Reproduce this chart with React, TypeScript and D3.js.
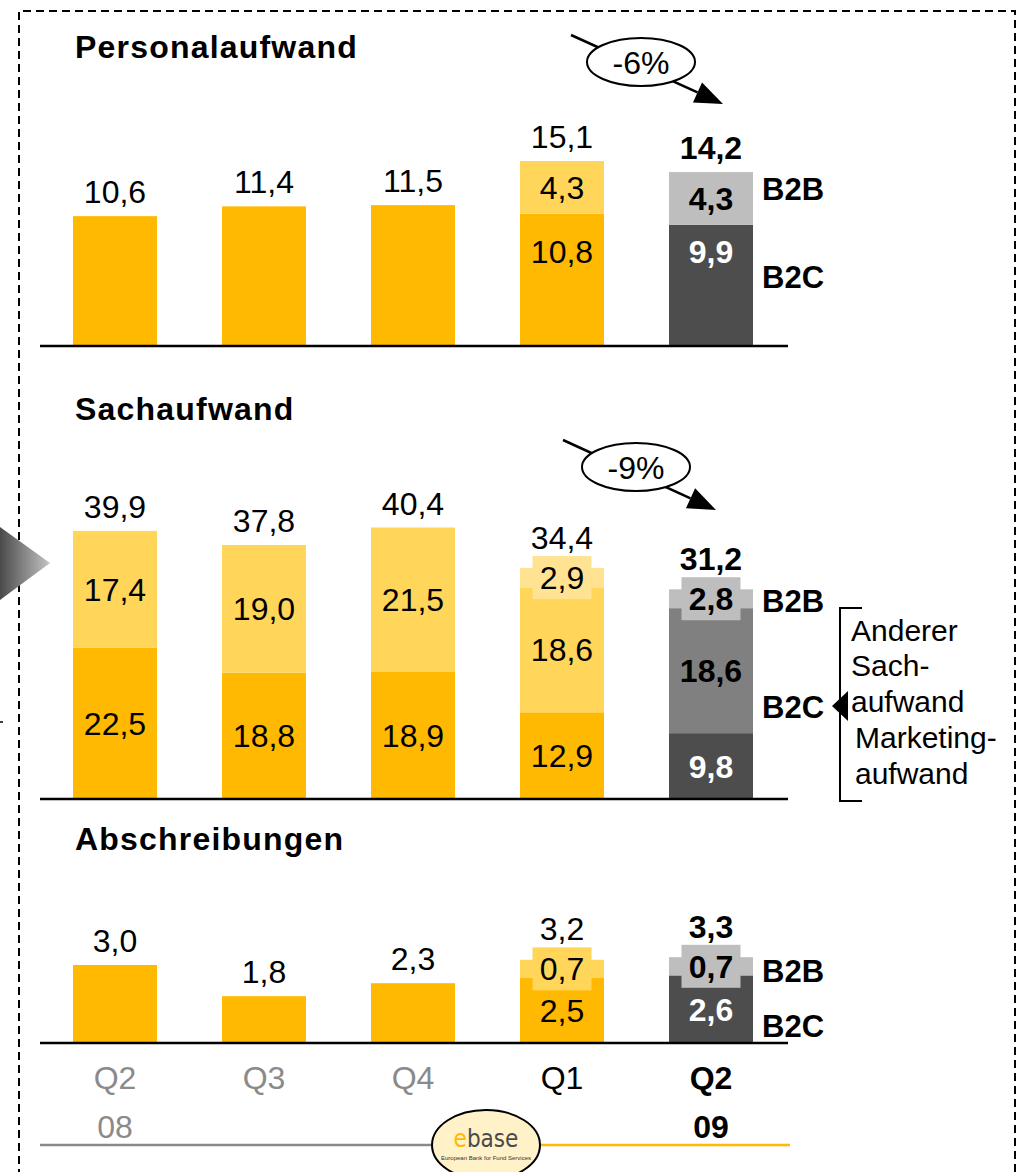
import * as d3 from "d3";

// categories / tick labels
const quarters = ["Q2", "Q3", "Q4", "Q1", "Q2"];
const years = ["08", "", "", "", "09"];

// Personalaufwand (Mio EUR)
const personalB2C = [10.6, 11.4, 11.5, 10.8, 9.9];
const personalB2B = [0, 0, 0, 4.3, 4.3];
const personalTotal = [10.6, 11.4, 11.5, 15.1, 14.2];

// Sachaufwand
const sachMarketing = [22.5, 18.8, 18.9, 12.9, 9.8];
const sachAnderer = [17.4, 19.0, 21.5, 18.6, 18.6];
const sachB2B = [0, 0, 0, 2.9, 2.8];
const sachTotal = [39.9, 37.8, 40.4, 34.4, 31.2];

// Abschreibungen
const abschrB2C = [3.0, 1.8, 2.3, 2.5, 2.6];
const abschrB2B = [0, 0, 0, 0.7, 0.7];
const abschrTotal = [3.0, 1.8, 2.3, 3.2, 3.3];

const changes = ["-6%", "-9%"];

const W = 1026;
const H = 1172;
const FONT = "'Liberation Sans', Arial, Helvetica, sans-serif";

const yDark = "#FFB900";
const yMid = "#FFD55A";
const yLight = "#FFE392";
const gLight = "#BEBEBE";
const gMid = "#808080";
const gDark = "#4D4D4D";

const fmt = (v: number) => v.toFixed(1).replace(".", ",");

interface Segment {
  values: number[];
  fills: string[];
  textColors: string[];
  showLabel: boolean[];
  labelAt?: number; // fixed label position in value units
}

interface Panel {
  title: string;
  titleY: number;
  baseline: number;
  pxPerUnit: number;
  segments: Segment[];
  totals: number[];
}

const panels: Panel[] = [
  {
    title: "Personalaufwand",
    titleY: 58,
    baseline: 346,
    pxPerUnit: 12.25,
    totals: personalTotal,
    segments: [
      {
        values: personalB2C,
        fills: [yDark, yDark, yDark, yDark, gDark],
        textColors: ["#000", "#000", "#000", "#000", "#fff"],
        showLabel: [false, false, false, true, true],
        labelAt: 7.75
      },
      {
        values: personalB2B,
        fills: [yMid, yMid, yMid, yMid, gLight],
        textColors: ["#000", "#000", "#000", "#000", "#000"],
        showLabel: [false, false, false, true, true]
      }
    ]
  },
  {
    title: "Sachaufwand",
    titleY: 420,
    baseline: 799,
    pxPerUnit: 6.72,
    totals: sachTotal,
    segments: [
      {
        values: sachMarketing,
        fills: [yDark, yDark, yDark, yDark, gDark],
        textColors: ["#000", "#000", "#000", "#000", "#fff"],
        showLabel: [true, true, true, true, true]
      },
      {
        values: sachAnderer,
        fills: [yMid, yMid, yMid, yMid, gMid],
        textColors: ["#000", "#000", "#000", "#000", "#000"],
        showLabel: [true, true, true, true, true]
      },
      {
        values: sachB2B,
        fills: [yLight, yLight, yLight, yLight, gLight],
        textColors: ["#000", "#000", "#000", "#000", "#000"],
        showLabel: [false, false, false, true, true]
      }
    ]
  },
  {
    title: "Abschreibungen",
    titleY: 850,
    baseline: 1043,
    pxPerUnit: 26,
    totals: abschrTotal,
    segments: [
      {
        values: abschrB2C,
        fills: [yDark, yDark, yDark, yDark, gDark],
        textColors: ["#000", "#000", "#000", "#000", "#fff"],
        showLabel: [false, false, false, true, true]
      },
      {
        values: abschrB2B,
        fills: [yMid, yMid, yMid, yMid, gLight],
        textColors: ["#000", "#000", "#000", "#000", "#000"],
        showLabel: [false, false, false, true, true]
      }
    ]
  }
];

// annotation positions (B2B / B2C side labels)
const sideLabels = [
  { text: "B2B", y: 200 },
  { text: "B2C", y: 288 },
  { text: "B2B", y: 612 },
  { text: "B2C", y: 718 },
  { text: "B2B", y: 982 },
  { text: "B2C", y: 1037 }
];

const arrows = [
  { x1: 571, y1: 35, x2: 723, y2: 104, cx: 641, cy: 62 },
  { x1: 563, y1: 440, x2: 716, y2: 510, cx: 636, cy: 467 }
];

const bracketLines = [
  { text: "Anderer", x: 851, y: 641 },
  { text: "Sach-", x: 851, y: 676 },
  { text: "aufwand", x: 851, y: 712 },
  { text: "Marketing-", x: 855, y: 748 },
  { text: "aufwand", x: 855, y: 784 }
];

const BAR_W = 84;
const BOX_W = 59;
const BOX_H = 43;
const FS = 32;

function Arrow({ a, label }: { a: (typeof arrows)[0]; label: string }) {
  const ang = Math.atan2(a.y2 - a.y1, a.x2 - a.x1);
  const len = 28;
  const hw = 11;
  const bx = a.x2 - len * Math.cos(ang);
  const by = a.y2 - len * Math.sin(ang);
  const px = -Math.sin(ang) * hw;
  const py = Math.cos(ang) * hw;
  return (
    <g>
      <line x1={a.x1} y1={a.y1} x2={bx} y2={by} stroke="#000" strokeWidth={2.5} />
      <polygon
        points={`${a.x2},${a.y2} ${bx + px},${by + py} ${bx - px},${by - py}`}
        fill="#000"
      />
      <ellipse cx={a.cx} cy={a.cy} rx={54} ry={24} fill="#fff" stroke="#000" strokeWidth={2} />
      <text x={a.cx} y={a.cy} dy="0.36em" textAnchor="middle" fontSize={32} fontFamily={FONT}>
        {label}
      </text>
    </g>
  );
}

export default function App() {
  const x = d3
    .scalePoint<number>()
    .domain(d3.range(quarters.length))
    .range([115, 711]);

  return (
    <svg
      width={W}
      height={H}
      style={{ position: "absolute", left: 0, top: 0, background: "#fff" }}
      fontFamily={FONT}
    >
      <defs>
        <linearGradient id="tri" x1="0" x2="1" y1="0" y2="0">
          <stop offset="0" stopColor="#4a4a4a" />
          <stop offset="1" stopColor="#c4c4c4" />
        </linearGradient>
      </defs>
      <rect width={W} height={H} fill="#fff" />

      {/* dashed frame */}
      <path
        d={`M19,${H + 5} L19,11 L1015,11 L1015,${H + 5}`}
        fill="none"
        stroke="#000"
        strokeWidth={2}
        strokeDasharray="8,5"
      />
      <polygon points="0,527 50,563 0,600" fill="url(#tri)" />
      <line x1={0} y1={722} x2={3} y2={722} stroke="#000" strokeWidth={1.5} />

      {panels.map((p, pi) => {
        const y = d3
          .scaleLinear()
          .domain([0, 1])
          .range([p.baseline, p.baseline - p.pxPerUnit]);
        return (
          <g key={pi}>
            <text
              x={75}
              y={p.titleY}
              fontSize={32}
              fontWeight="bold"
              letterSpacing={1.2}
            >
              {p.title}
            </text>
            {quarters.map((_, i) => {
              const cx = x(i)!;
              let cum = 0;
              let topMost = y(p.totals[i]) - 13;
              const marks = p.segments.map((s, si) => {
                const v = s.values[i];
                const y0 = y(cum);
                cum += v;
                const y1 = y(cum);
                if (v <= 0) return null;
                return { s, si, v, y0, y1 };
              });
              const labels: JSX.Element[] = [];
              const rects: JSX.Element[] = [];
              marks.forEach((m) => {
                if (!m) return;
                const { s, si, v, y0, y1 } = m;
                rects.push(
                  <rect
                    key={`r${si}`}
                    x={cx - BAR_W / 2}
                    y={y1}
                    width={BAR_W}
                    height={y0 - y1}
                    fill={s.fills[i]}
                  />
                );
                if (s.showLabel[i]) {
                  const cy = s.labelAt !== undefined ? y(s.labelAt) : (y0 + y1) / 2;
                  const small = y0 - y1 < BOX_H;
                  if (small) {
                    labels.push(
                      <rect
                        key={`b${si}`}
                        x={cx - BOX_W / 2}
                        y={cy - BOX_H / 2}
                        width={BOX_W}
                        height={BOX_H}
                        fill={s.fills[i]}
                      />
                    );
                    topMost = Math.min(topMost, cy - BOX_H / 2 - 7);
                  }
                  labels.push(
                    <text
                      key={`t${si}`}
                      x={cx}
                      y={cy}
                      dy="0.36em"
                      textAnchor="middle"
                      fontSize={FS}
                      fontWeight={i === 4 ? "bold" : "normal"}
                      fill={s.textColors[i]}
                    >
                      {fmt(v)}
                    </text>
                  );
                }
              });
              return (
                <g key={i}>
                  {rects}
                  {labels}
                  <text
                    x={cx}
                    y={topMost}
                    textAnchor="middle"
                    fontSize={FS}
                    fontWeight={i === 4 ? "bold" : "normal"}
                  >
                    {fmt(p.totals[i])}
                  </text>
                </g>
              );
            })}
            <line
              x1={40}
              x2={788}
              y1={p.baseline}
              y2={p.baseline}
              stroke="#000"
              strokeWidth={2.5}
            />
          </g>
        );
      })}

      {sideLabels.map((l, i) => (
        <text key={i} x={762} y={l.y} fontSize={31} fontWeight="bold">
          {l.text}
        </text>
      ))}

      {arrows.map((a, i) => (
        <Arrow key={i} a={a} label={changes[i]} />
      ))}

      {/* bracket for Sachaufwand breakdown */}
      <path d="M862,608 L840,608 L840,801 L862,801" fill="none" stroke="#000" strokeWidth={2} />
      <polygon points="832,706 848,691 848,721" fill="#000" />
      {bracketLines.map((l, i) => (
        <text key={i} x={l.x} y={l.y} fontSize={30}>
          {l.text}
        </text>
      ))}

      {/* category axis */}
      {quarters.map((q, i) => (
        <g key={i}>
          <text
            x={x(i)}
            y={1089}
            textAnchor="middle"
            fontSize={FS}
            fontWeight={i === 4 ? "bold" : "normal"}
            fill={i < 3 ? "#8a8a8a" : "#000"}
          >
            {q}
          </text>
          <text
            x={x(i)}
            y={1138}
            textAnchor="middle"
            fontSize={FS}
            fontWeight={i === 4 ? "bold" : "normal"}
            fill={i < 3 ? "#8a8a8a" : "#000"}
          >
            {years[i]}
          </text>
        </g>
      ))}

      {/* footer with logo */}
      <line x1={40} x2={440} y1={1145} y2={1145} stroke="#8a8a8a" strokeWidth={2.5} />
      <line x1={530} x2={790} y1={1145} y2={1145} stroke="#FFB900" strokeWidth={2.5} />
      <ellipse cx={486} cy={1145} rx={54} ry={35} fill="#FFF1C8" stroke="#000" strokeWidth={2} />
      <text x={486} y={1147} textAnchor="middle" fontSize={24} fontFamily="'DejaVu Sans Condensed', 'Liberation Sans Narrow', sans-serif">
        <tspan fill="#FFB900">e</tspan>
        <tspan fill="#4a4a4a">base</tspan>
      </text>
      <text x={486} y={1160} textAnchor="middle" fontSize={6} fill="#333">
        European Bank for Fund Services
      </text>
    </svg>
  );
}
